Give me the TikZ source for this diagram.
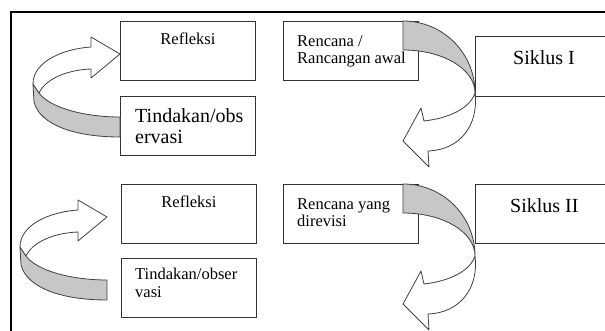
\documentclass[tikz,border=0pt]{standalone}
\usepackage{fontspec}
\setmainfont{Liberation Serif}
\usetikzlibrary{positioning}

\begin{document}
\begin{tikzpicture}[x=1pt,y=-1pt]
	\tikzset{box/.style={draw=black!80,line width=0.9pt,anchor=north west,minimum width=135pt,minimum height=59pt,inner sep=0pt},
		lbl/.style={align=left,inner sep=0pt,font=\fontsize{16.5}{17.5}\selectfont},
		biglbl/.style={align=left,inner sep=0pt,font=\fontsize{20}{21}\selectfont},
		back/.style={draw=black!75,line width=0.8pt,line join=round,fill=black!22},
		front/.style={draw=black!75,line width=0.8pt,line join=round,fill=white}}
	\useasboundingbox (0,0) rectangle (605,331);
	\clip (0,0) rectangle (605,331);
	\draw[line width=1.3pt] (11,340) -- (11,12) -- (620,12);
	% siklus I
	\node[box] (refl1) at (120,21) {};
	\node[box] (tind1) at (120,96) {};
	\node[box] (renc1) at (283,21) {};
	\node[box,minimum width=150pt,minimum height=60pt] (siklus1) at (475,36) {};
	% siklus II
	\node[box] (refl2) at (121,184) {};
	\node[box] (tind2) at (121,258) {};
	\node[box] (renc2) at (283,184) {};
	\node[box,minimum width=150pt] (siklus2) at (475,184) {};
	% curved arrows
	\foreach \dx/\dy in {0/0,-13/163} {
		\begin{scope}[shift={(\dx,\dy)}]
			\draw[back] (33,84) -- (39,93) .. controls (50,108) and (85,117) .. (120,117) -- (120,137) .. controls (75,137) and (40,125) .. (34,102) -- cycle;
			\draw[front] (33,84) .. controls (33,62) and (62,49) .. (91,47) -- (91,37) -- (120,54) -- (91,78) -- (91,69) .. controls (65,70) and (45,80) .. (39,93) -- cycle;
		\end{scope}
	}
	\foreach \dy in {0,163} {
		\begin{scope}[shift={(0,\dy)}]
			\draw[back] (403,21) .. controls (443,21) and (475,53) .. (475,93) .. controls (475,69) and (443,50) .. (403,50) -- cycle;
			\draw[front] (475,93) .. controls (479,125) and (460,150) .. (428,151) -- (429,167) -- (403,141) -- (421,108) -- (424,121) .. controls (450,118) and (470,108) .. (475,93) -- cycle;
		\end{scope}
	}
	% labels
	\node[lbl,below=12pt of refl1.north] (t-refl1) {Refleksi};
	\node[biglbl,below right=12pt and 15pt of tind1.north west] (t-tind1) {Tindakan/obs\\ervasi};
	\node[lbl,below right=14pt and 14pt of renc1.north west] (t-renc1) {Rencana /\\Rancangan awal};
	\node[biglbl,below right=14pt and 38pt of siklus1.north west] (t-sik1) {Siklus I};
	\node[lbl,below=12pt of refl2.north] (t-refl2) {Refleksi};
	\node[lbl,below right=10pt and 14pt of tind2.north west] (t-tind2) {Tindakan/obser\\vasi};
	\node[lbl,below right=14pt and 14pt of renc2.north west] (t-renc2) {Rencana yang\\direvisi};
	\node[biglbl,below right=14pt and 35pt of siklus2.north west] (t-sik2) {Siklus II};
\end{tikzpicture}
\end{document}
